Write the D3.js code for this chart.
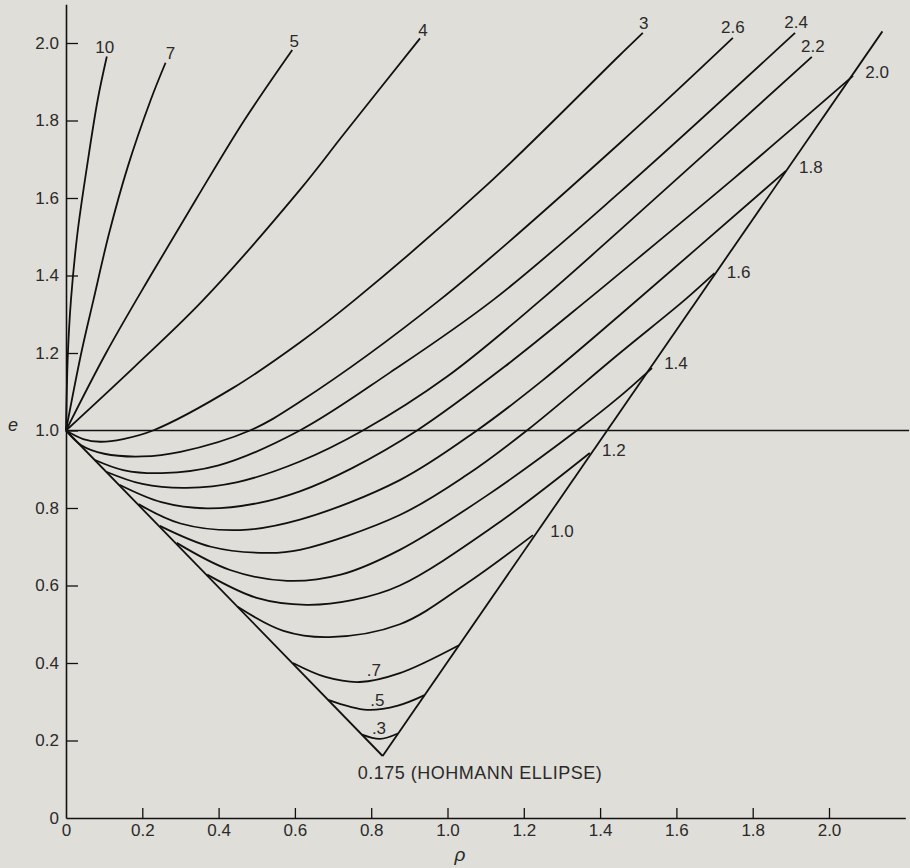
<!DOCTYPE html>
<html>
<head>
<meta charset="utf-8">
<script src="https://cdn.jsdelivr.net/npm/d3@7"></script>
<style>
  html, body { margin: 0; padding: 0; background: #e0ded9; }
  svg { display: block; }
  text { font-family: "Liberation Sans", Arial, sans-serif; fill: #2a2a2a; }
</style>
</head>
<body>
<svg id="chart" width="910" height="868"></svg>
<script>
// ---- data (p, e) ----
const pTicks = [0, 0.2, 0.4, 0.6, 0.8, 1.0, 1.2, 1.4, 1.6, 1.8, 2.0];
const eTicks = [0, 0.2, 0.4, 0.6, 0.8, 1.0, 1.2, 1.4, 1.6, 1.8, 2.0];

const curveLabels = ["10", "7", "5", "4", "3", "2.6", "2.4", "2.2", "2.0", "1.8", "1.6", "1.4", "1.2", "1.0", ".7", ".5", ".3"];
const labelAnchor = ["end", "end", "end", "end", "end", "end", "end", "end", "end", "end", "end", "end", "end", "end", "min", "min", "min"];

const c10 = [[0, 1], [0.005, 1.2], [0.013, 1.337], [0.030, 1.509], [0.055, 1.681], [0.083, 1.853], [0.107, 1.965]];
const c7 = [[0, 1], [0.04, 1.2], [0.072, 1.337], [0.113, 1.509], [0.162, 1.681], [0.222, 1.853], [0.261, 1.949]];
const c5 = [[0, 1], [0.105, 1.2], [0.222, 1.4], [0.343, 1.6], [0.467, 1.8], [0.593, 1.982]];
const c4 = [[0, 1], [0.18, 1.165], [0.36, 1.337], [0.613, 1.621], [0.73, 1.767], [0.928, 2.012]];
const c3 = [[0, 1], [0.045, 0.978], [0.09, 0.971], [0.15, 0.978], [0.228, 1.0], [0.438, 1.11], [0.613, 1.227], [0.757, 1.337], [1.105, 1.635], [1.452, 1.969], [1.512, 2.026]];
const c26 = [[0, 1], [0.04, 0.962], [0.1, 0.94], [0.2, 0.933], [0.3, 0.945], [0.482, 1.0], [0.613, 1.074], [0.98, 1.337], [1.452, 1.742], [1.748, 2.013]];
const c24 = [[0.076, 0.924], [0.15, 0.898], [0.25, 0.89], [0.4, 0.91], [0.613, 1.0], [0.85, 1.15], [1.12, 1.337], [1.452, 1.615], [1.911, 2.026]];
const c22 = [[0.107, 0.893], [0.2, 0.862], [0.316, 0.852], [0.45, 0.867], [0.613, 0.92], [0.778, 1.0], [1.0, 1.14], [1.245, 1.337], [1.452, 1.517], [1.955, 1.964]];
const c20 = [[0.14, 0.86], [0.25, 0.815], [0.369, 0.799], [0.5, 0.812], [0.613, 0.843], [0.75, 0.903], [0.92, 1.0], [1.15, 1.165], [1.367, 1.337], [1.452, 1.406], [1.75, 1.65], [2.063, 1.915]];
const c18 = [[0.19, 0.81], [0.3, 0.76], [0.456, 0.743], [0.613, 0.77], [0.875, 0.872], [1.077, 1.0], [1.25, 1.13], [1.452, 1.298], [1.887, 1.67]];
const c16 = [[0.246, 0.754], [0.38, 0.7], [0.527, 0.684], [0.613, 0.692], [0.875, 0.782], [1.05, 0.885], [1.208, 1.0], [1.452, 1.2], [1.622, 1.337], [1.70, 1.406]];
const c14 = [[0.29, 0.71], [0.43, 0.64], [0.58, 0.612], [0.72, 0.628], [0.875, 0.692], [1.1, 0.83], [1.339, 1.0], [1.452, 1.088], [1.536, 1.161]];
const c12 = [[0.37, 0.628], [0.5, 0.568], [0.63, 0.55], [0.75, 0.562], [0.875, 0.60], [1.12, 0.752], [1.373, 0.942]];
const c10b = [[0.45, 0.545], [0.57, 0.483], [0.69, 0.467], [0.875, 0.50], [1.05, 0.605], [1.224, 0.73]];
const c07 = [[0.595, 0.40], [0.68, 0.364], [0.77, 0.351], [0.875, 0.374], [1.03, 0.446]];
const c05 = [[0.687, 0.305], [0.79, 0.279], [0.87, 0.29], [0.94, 0.317]];
const c03 = [[0.776, 0.215], [0.823, 0.204], [0.87, 0.218]];
const curves = [c10, c7, c5, c4, c3, c26, c24, c22, c20, c18, c16, c14, c12, c10b, c07, c05, c03];

const leftBoundary = [[0, 1], [0.83, 0.16]];
const rightBoundary = [[0.83, 0.16], [2.14, 2.03]];
const hohmannPoint = [0.83, 0.16];
const hohmannLabel = "0.175 (HOHMANN ELLIPSE)";
const unitLine = [[0, 1], [2.21, 1]];

// ---- styling / layout (not data) ----
const labelOffsets = [[-2, -10], [5, -10], [2, -9], [3, -8], [1, -10], [0, -11], [1, -11], [1, -11],
  [24, -4], [25, -4], [24, -1], [24, -5], [24, -3], [29, -4], [14, -12], [10, -10], [-1, -11]];

const svg = d3.select("#chart");
const x = d3.scaleLinear().domain([0, 2.2]).range([66, 905.3]);
const y = d3.scaleLinear().domain([0, 2.1]).range([818, 4.25]);

const fmt = v => v === 0 ? "0" : d3.format(".1f")(v);

// axes
const gx = svg.append("g").attr("transform", `translate(0,${y(0)})`)
  .call(d3.axisBottom(x).tickValues(pTicks).tickFormat(fmt).tickSize(-10).tickSizeOuter(0).tickPadding(6));
const gy = svg.append("g").attr("transform", `translate(${x(0)},0)`)
  .call(d3.axisLeft(y).tickValues(eTicks).tickFormat(fmt).tickSize(-12).tickSizeOuter(0).tickPadding(7));
[gx, gy].forEach(g => {
  g.select(".domain").attr("stroke", "#111").attr("stroke-width", 1.6);
  g.selectAll(".tick line").attr("stroke", "#111").attr("stroke-width", 1.3);
  g.selectAll(".tick text").attr("font-size", 17).attr("fill", "#2a2a2a")
    .attr("font-family", "Liberation Sans, Arial, sans-serif");
});
gx.selectAll(".tick").filter(d => d === 0).select("line").remove();
gy.selectAll(".tick").filter(d => d === 0).select("line").remove();

// axis titles
svg.append("text").attr("x", 13).attr("y", 431).attr("text-anchor", "middle")
  .attr("font-size", 18).attr("font-style", "italic").text("e");
svg.append("text").attr("x", 460).attr("y", 861).attr("text-anchor", "middle")
  .attr("font-size", 19).attr("font-style", "italic").text("ρ");

const straight = d3.line().x(d => x(d[0])).y(d => y(d[1]));
const smooth = d3.line().x(d => x(d[0])).y(d => y(d[1])).curve(d3.curveCatmullRom.alpha(0.5));

// reference line e = 1
svg.append("path").attr("d", straight(unitLine)).attr("fill", "none")
  .attr("stroke", "#111").attr("stroke-width", 1.4);

// boundaries
[leftBoundary, rightBoundary].forEach(b => {
  svg.append("path").attr("d", straight(b)).attr("fill", "none")
    .attr("stroke", "#111").attr("stroke-width", 1.8);
});

// curves
svg.append("g").selectAll("path").data(curves).join("path")
  .attr("d", d => smooth(d)).attr("fill", "none")
  .attr("stroke", "#111").attr("stroke-width", 1.8).attr("stroke-linejoin", "round");

// curve labels
curves.forEach((pts, i) => {
  const a = labelAnchor[i] === "min" ? d3.least(pts, d => d[1]) : pts[pts.length - 1];
  const off = labelOffsets[i];
  svg.append("text")
    .attr("x", x(a[0]) + off[0])
    .attr("y", y(a[1]) + off[1] + 6)
    .attr("text-anchor", "middle")
    .attr("font-size", 17)
    .text(curveLabels[i]);
});

// Hohmann label
svg.append("text")
  .attr("x", x(hohmannPoint[0]) - 25)
  .attr("y", y(hohmannPoint[1]) + 23)
  .attr("font-size", 18).attr("letter-spacing", 0.5)
  .text(hohmannLabel);
</script>
</body>
</html>
